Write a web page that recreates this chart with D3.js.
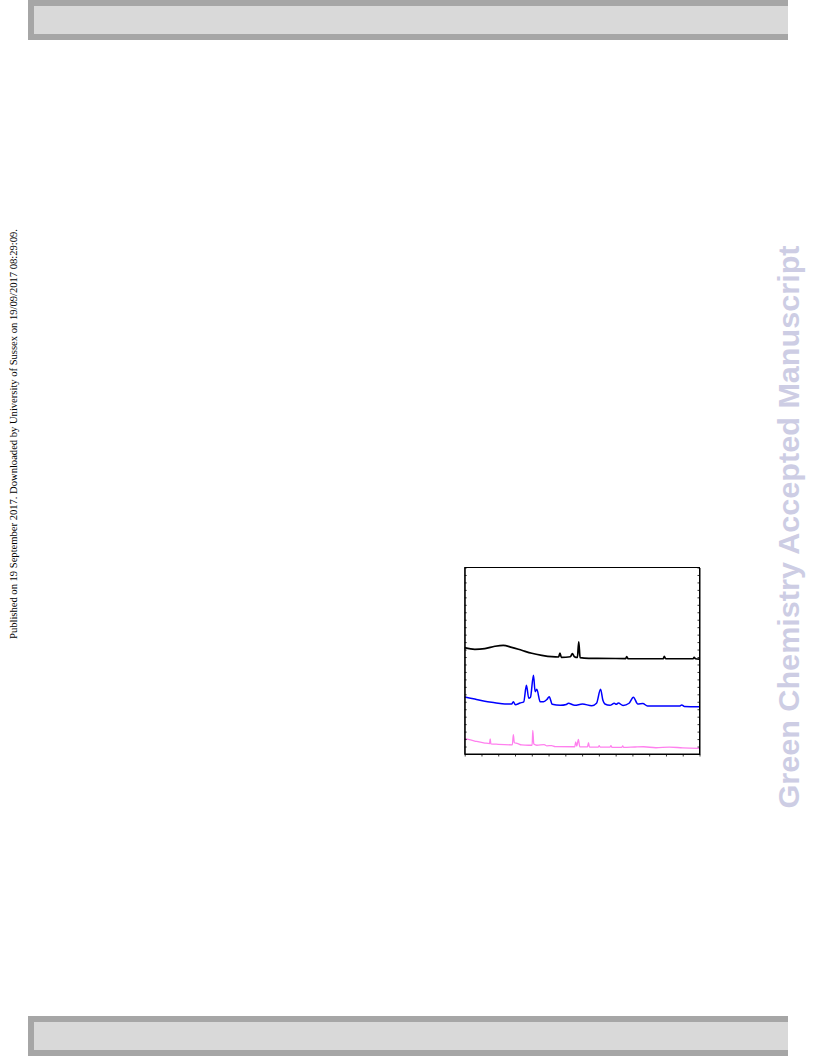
<!DOCTYPE html>
<html>
<head>
<meta charset="utf-8">
<script src="https://cdn.jsdelivr.net/npm/d3@7"></script>
<style>
  html, body { margin: 0; padding: 0; background: #fff; }
  svg { display: block; }
</style>
</head>
<body>
<svg id="page" width="816" height="1056"></svg>
<script>
// ---------- data (2θ in degrees, intensity in a.u.) ----------
const xTicks = d3.range(5, 76, 5);
const yTicks = d3.range(0, 2501, 100);

const blackTheta = [5.0, 8.0, 11.0, 14.0, 16.5, 19.0, 22.0, 25.0, 28.0, 31.0, 33.0, 33.4, 33.8, 36.5, 37.1, 37.7, 38.6, 39.0, 39.4, 42.0, 50.0, 53.0, 53.3, 53.7, 60.0, 64.2, 64.5, 64.9, 70.0, 73.1, 73.4, 73.8, 75.0];
const blackI     = [1425, 1403, 1412, 1444, 1457, 1430, 1390, 1350, 1323, 1304, 1300, 1354, 1296, 1304, 1345, 1304, 1294, 1505, 1291, 1283, 1280, 1279, 1307, 1278, 1277, 1277, 1310, 1277, 1277, 1277, 1297, 1277, 1273];

const blueTheta = [5.0, 8.0, 11.0, 14.0, 17.0, 19.0, 19.5, 20.1, 21.5, 22.6, 23.4, 24.1, 24.6, 25.5, 26.0, 26.5, 27.5, 28.5, 29.5, 30.2, 31.1, 33.5, 35.3, 35.9, 37.8, 40.1, 42.9, 44.3, 45.5, 46.2, 46.8, 48.3, 49.6, 50.2, 50.8, 52.2, 54.0, 55.3, 56.6, 58.1, 59.5, 65.0, 69.0, 69.7, 70.5, 75.0];
const blueI     = [764, 737, 706, 688, 670, 670, 701, 661, 684, 700, 921, 747, 760, 1055, 835, 867, 701, 701, 730, 768, 666, 653, 664, 680, 653, 670, 647, 680, 867, 720, 670, 653, 680, 666, 684, 650, 680, 760, 670, 677, 643, 643, 643, 657, 638, 634];

const pinkTheta = [5.0, 8.0, 11.0, 12.4, 12.6, 12.8, 15.0, 19.2, 19.5, 19.8, 20.6, 22.0, 24.0, 25.1, 25.3, 25.6, 26.5, 28.7, 29.5, 30.9, 32.0, 37.8, 38.1, 38.4, 38.9, 39.3, 41.6, 41.9, 42.2, 44.8, 45.1, 45.4, 48.3, 48.6, 48.9, 51.8, 52.1, 52.4, 55.8, 58.3, 62.0, 66.0, 70.0, 75.0];
const pinkI     = [205, 174, 147, 139, 201, 137, 130, 123, 259, 151, 143, 121, 117, 117, 318, 134, 117, 127, 110, 113, 99, 97, 161, 107, 197, 97, 96, 151, 94, 92, 111, 92, 91, 111, 90, 89, 107, 88, 94, 97, 84, 93, 82, 76];

const seriesList = [
  { name: "black", theta: blackTheta, values: blackI, color: "#000000", width: 1.7 },
  { name: "blue",  theta: blueTheta,  values: blueI,  color: "#0000ff", width: 1.5 },
  { name: "pink",  theta: pinkTheta,  values: pinkI,  color: "#ff80ee", width: 1.3 }
];

const svg = d3.select("#page");

// ---------- page decorations ----------
function bar(yy) {
  svg.append("rect").attr("x", 28).attr("y", yy).attr("width", 760).attr("height", 40).attr("fill", "#a6a6a6");
  svg.append("rect").attr("x", 34).attr("y", yy + 6).attr("width", 754).attr("height", 28).attr("fill", "#d9d9d9");
}
bar(0);
bar(1016);

svg.append("text")
  .attr("transform", "translate(17,434) rotate(-90)")
  .attr("text-anchor", "middle")
  .attr("font-family", "'Liberation Serif', 'Times New Roman', serif")
  .attr("font-size", 10.6)
  .attr("textLength", 410)
  .attr("lengthAdjust", "spacingAndGlyphs")
  .attr("fill", "#000")
  .text("Published on 19 September 2017. Downloaded by University of Sussex on 19/09/2017 08:29:09.");

svg.append("text")
  .attr("transform", "translate(799,527) rotate(-90)")
  .attr("text-anchor", "middle")
  .attr("font-family", "'Liberation Sans', Arial, sans-serif")
  .attr("font-weight", "bold")
  .attr("font-size", 30)
  .attr("textLength", 563)
  .attr("lengthAdjust", "spacingAndGlyphs")
  .attr("fill", "#cdcde4")
  .text("Green Chemistry Accepted Manuscript");

// ---------- chart ----------
const plotL = 464.7, plotR = 699.5, plotT = 567.5, plotB = 754;
const x = d3.scaleLinear().domain([5, 75]).range([plotL, plotR]);
const y = d3.scaleLinear().domain([0, 2500]).range([plotB, plotT]);

const g = svg.append("g");

const line = d3.line()
  .x(d => x(d[0]))
  .y(d => y(d[1]))
  .curve(d3.curveMonotoneX);

seriesList.forEach(s => {
  const pts = s.theta.map((t, i) => [t, s.values[i]]);
  g.append("path")
    .datum(pts)
    .attr("fill", "none")
    .attr("stroke", s.color)
    .attr("stroke-width", s.width)
    .attr("stroke-linejoin", "round")
    .attr("d", line);
});

// axes
const axB = d3.axisBottom(x).tickValues(xTicks).tickSizeInner(2.5).tickSizeOuter(0).tickFormat("");
const axL = d3.axisRight(y).tickValues(yTicks).tickSizeInner(2).tickSizeOuter(0).tickFormat("");
const axR = d3.axisLeft(y).tickValues(yTicks).tickSizeInner(2).tickSizeOuter(0).tickFormat("");

g.append("g").attr("transform", `translate(0,${plotB})`).call(axB);
g.append("g").attr("transform", `translate(${plotL},0)`).call(axL);
g.append("g").attr("transform", `translate(${plotR},0)`).call(axR);
g.selectAll(".domain").attr("stroke", "#000").attr("stroke-width", 1);
g.selectAll(".tick line").attr("stroke", "#000").attr("stroke-width", 0.8);

g.append("rect")
  .attr("x", plotL).attr("y", plotT)
  .attr("width", plotR - plotL).attr("height", plotB - plotT)
  .attr("fill", "none").attr("stroke", "#000").attr("stroke-width", 1);
</script>
</body>
</html>
